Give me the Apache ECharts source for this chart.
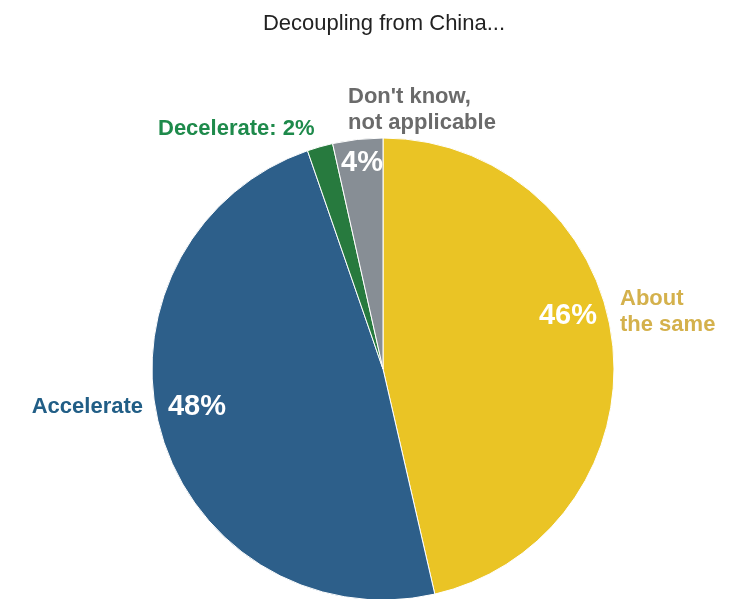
<!DOCTYPE html>
<html>
<head>
<meta charset="utf-8">
<script src="https://cdn.jsdelivr.net/npm/echarts@6/dist/echarts.min.js"></script>
<style>
  html, body { margin: 0; padding: 0; background: #fff; }
  #chart { width: 739px; height: 599px; }
</style>
</head>
<body>
<div id="chart"></div>
<script>
const categories = ["About the same", "Accelerate", "Decelerate", "Don't know, not applicable"];
const values = [46.4, 48.3, 1.8, 3.5];
const outsideTexts = ["About\nthe same", "Accelerate", "Decelerate: 2%", "Don't know,\nnot applicable"];
const sliceColors = ["#EAC425", "#2D5F8A", "#277A3E", "#878E95"];
const labelColors = ["#D4B14C", "#215E86", "#1E8A4B", "#6A6A6A"];

const chart = echarts.init(document.getElementById("chart"));
const center = [383, 369];
const R = 231;

const pieData = categories.map((c, i) => ({ name: c, value: values[i] }));

// where the labels sit
const innerPos = [
  { x: 568, y: 316 },
  { x: 197, y: 407 },
  null,
  { x: 362, y: 163 },
];
const outerPos = [
  { x: 620, y: 312, align: "left" },
  { x: 143, y: 407, align: "right" },
  { x: 158, y: 129, align: "left" },
  { x: 348, y: 110, align: "left" },
];

let option = {
  backgroundColor: "#fff",
  animation: false,
  title: {
    text: "Decoupling from China...",
    left: 379,
    textAlign: "center",
    top: 8,
    textStyle: {
      fontFamily: "Liberation Sans",
      fontWeight: "normal",
      fontSize: 22,
      color: "#222",
    },
  },
  series: [
    {
      type: "pie",
      center: center,
      radius: R,
      startAngle: 90,
      clockwise: true,
      silent: true,
      data: pieData.map((d, i) => ({ ...d, itemStyle: { color: sliceColors[i] } })),
      itemStyle: { borderColor: "#fff", borderWidth: 1 },
      label: { show: false },
      labelLine: { show: false },
    },
    {
      // white percentages inside the slices
      type: "pie",
      center: center,
      radius: R,
      startAngle: 90,
      clockwise: true,
      silent: true,
      data: pieData.map((d, i) => ({
        ...d,
        itemStyle: { color: "rgba(0,0,0,0)" },
        label: { show: innerPos[i] !== null },
      })),
      label: {
        position: "inside",
        formatter: (p) => Math.round(p.value) + "%",
        color: "#fff",
        fontFamily: "Liberation Sans",
        fontWeight: "bold",
        fontSize: 29,
      },
      labelLayout(params) {
        const p = innerPos[params.dataIndex];
        if (!p) return {};
        return { x: p.x, y: p.y, align: "center", verticalAlign: "middle" };
      },
      labelLine: { show: false },
    },
    {
      // category labels outside the pie
      type: "pie",
      center: center,
      radius: R,
      startAngle: 90,
      clockwise: true,
      silent: true,
      data: pieData.map((d, i) => ({
        ...d,
        itemStyle: { color: "rgba(0,0,0,0)" },
        label: { color: labelColors[i] },
      })),
      label: {
        position: "inside",
        formatter: (p) => outsideTexts[p.dataIndex],
        fontFamily: "Liberation Sans",
        fontWeight: "bold",
        fontSize: 22,
        lineHeight: 26,
        overflow: "none",
      },
      labelLine: { show: false },
      labelLayout(params) {
        const p = outerPos[params.dataIndex];
        return { x: p.x, y: p.y, align: p.align, verticalAlign: "middle" };
      },
    },
  ],
};
chart.setOption(option);
</script>
</body>
</html>
